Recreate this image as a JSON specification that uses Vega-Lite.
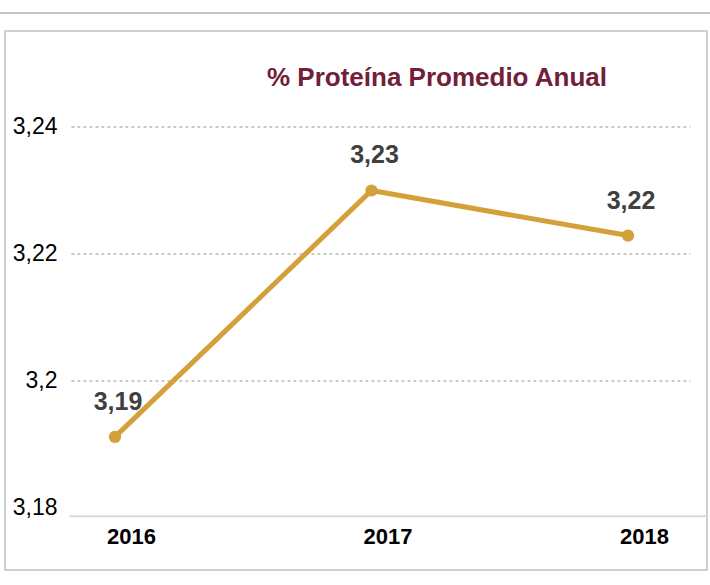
{
  "$schema": "https://vega.github.io/schema/vega-lite/v6.json",
  "width": 702,
  "height": 539,
  "autosize": "none",
  "padding": {"left": 5, "top": 31, "right": 3, "bottom": 15},
  "background": "white",
  "title": {
    "text": "% Proteína Promedio Anual",
    "anchor": "start",
    "frame": "group",
    "dx": 262,
    "offset": -100,
    "baseline": "alphabetic",
    "font": "Liberation Sans, sans-serif",
    "fontSize": 26,
    "fontWeight": "bold",
    "color": "#722037"
  },
  "config": {
    "locale": {"number": {"decimal": ",", "thousands": ".", "grouping": [3], "currency": ["", " €"]}},
    "view": {"stroke": "#D0D0D0", "strokeWidth": 2},
    "font": "Liberation Sans, sans-serif"
  },
  "datasets": {
    "protein": [
      {"year": 2016, "value": 3.1912},
      {"year": 2017, "value": 3.2300},
      {"year": 2018, "value": 3.2229}
    ],
    "grid": [
      {"tick": 3.20},
      {"tick": 3.22},
      {"tick": 3.24}
    ]
  },
  "layer": [
    {
      "data": {"name": "grid"},
      "mark": {"type": "rule", "color": "#BBBBBB", "strokeWidth": 1.5, "strokeDash": [3, 3]},
      "encoding": {
        "y": {"field": "tick", "type": "quantitative"},
        "x": {"datum": 2015.83, "type": "quantitative"},
        "x2": {"datum": 2018.243}
      }
    },
    {
      "data": {"values": [{}]},
      "mark": {"type": "rule", "color": "#D9D9D9", "strokeWidth": 2},
      "encoding": {
        "y": {"datum": 3.1787, "type": "quantitative"},
        "x": {"datum": 2015.822, "type": "quantitative"},
        "x2": {"datum": 2018.308}
      }
    },
    {
      "data": {"values": [{}]},
      "mark": {"type": "rule", "color": "#C4C4C4", "strokeWidth": 2, "clip": false},
      "encoding": {
        "y": {"datum": 3.25795, "type": "quantitative"},
        "x": {"datum": 2015.5517, "type": "quantitative"},
        "x2": {"datum": 2018.3197}
      }
    },
    {
      "data": {"name": "protein"},
      "mark": {"type": "line", "color": "#D4A03A", "strokeWidth": 5, "point": {"filled": true, "size": 150, "color": "#D4A03A", "opacity": 1}},
      "encoding": {
        "x": {
          "field": "year", "type": "quantitative",
          "scale": {"domain": [2015.5712, 2018.308], "nice": false, "zero": false},
          "axis": {
            "orient": "bottom", "values": [2016, 2017, 2018], "format": "d", "title": null,
            "domain": false, "ticks": false, "grid": false, "offset": -54,
            "labelPadding": 10, "labelOffset": 16, "labelFontSize": 22, "labelFontWeight": "bold",
            "labelColor": "#000000", "labelBaseline": "top",
            "labelFont": "Liberation Sans, sans-serif"
          }
        },
        "y": {
          "field": "value", "type": "quantitative",
          "scale": {"domain": [3.170236, 3.255118], "nice": false, "zero": false},
          "axis": {
            "orient": "left", "values": [3.18, 3.2, 3.22, 3.24], "format": ".2~f", "title": null,
            "domain": false, "ticks": false, "grid": false, "offset": -54,
            "labelPadding": 2, "labelFontSize": 23, "labelColor": "#000000",
            "labelFont": "Liberation Sans, sans-serif"
          }
        }
      }
    },
    {
      "data": {"name": "protein"},
      "mark": {"type": "text", "dy": -35, "dx": 3, "fontSize": 25, "fontWeight": "bold", "color": "#404040", "font": "Liberation Sans, sans-serif"},
      "encoding": {
        "x": {"field": "year", "type": "quantitative"},
        "y": {"field": "value", "type": "quantitative"},
        "text": {"field": "value", "type": "quantitative", "format": ".2f"}
      }
    }
  ]
}
